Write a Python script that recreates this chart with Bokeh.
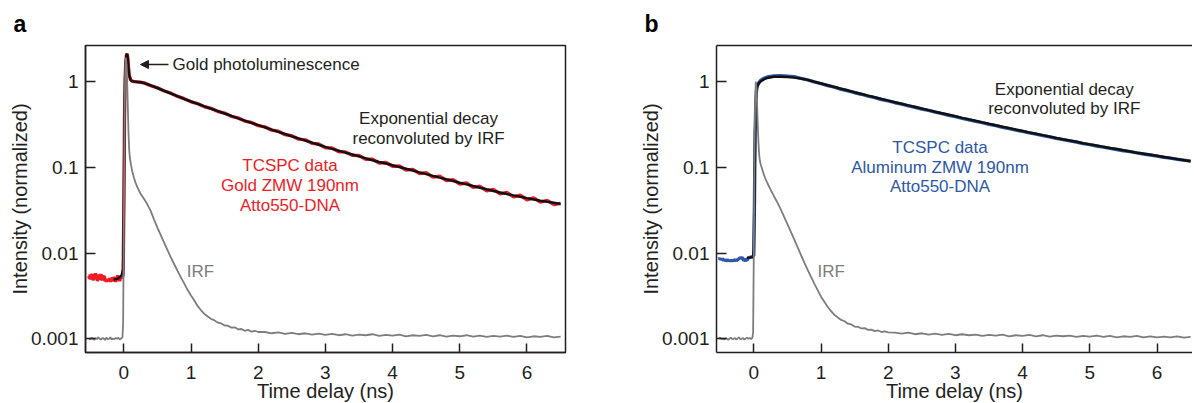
import numpy as np
from bokeh.plotting import figure
from bokeh.models import Label, Arrow, NormalHead, FixedTicker, LinearAxis
from bokeh.layouts import row
from bokeh.embed import file_html
from bokeh.resources import INLINE

# ---------------- data ----------------
# sampling grids (ns)
base_t = np.round(np.arange(-0.52, -0.005, 0.01), 3)      # pre-pulse baseline of TCSPC data
irf_base_t = np.round(np.arange(-0.52, -0.015, 0.02), 3)  # pre-pulse baseline of IRF
decay_t = np.round(np.arange(0.3, 6.55, 0.1), 2)          # TCSPC decay grid (panel a)
decay_tb = np.round(np.arange(0.6, 6.55, 0.1), 2)         # TCSPC decay grid (panel b)
irf_mid_t = np.round(np.arange(0.35, 2.025, 0.05), 3)
irf_tail_t = np.round(np.arange(2.1, 6.55, 0.1), 2)

# ---- panel a : gold ZMW ----
gold_base = [0.0054, 0.0050, 0.0056, 0.0049, 0.0053, 0.0057, 0.0051, 0.0048, 0.0055, 0.0052,
             0.0058, 0.0050, 0.0054, 0.0047, 0.0053, 0.0056, 0.0049, 0.0052, 0.0057, 0.0050,
             0.0048, 0.0055, 0.0051, 0.0054, 0.0047, 0.0050, 0.0046, 0.0050, 0.0048, 0.0049,
             0.0047, 0.0051, 0.0046, 0.0050, 0.0048, 0.0052, 0.0049, 0.0047, 0.0053, 0.0050,
             0.0046, 0.0052, 0.0049, 0.0055, 0.0048, 0.0051, 0.0047, 0.0053, 0.0050, 0.0054,
             0.0052, 0.0056]
peak_t = [0.00, 0.01, 0.02, 0.03, 0.04, 0.05, 0.06, 0.07, 0.08, 0.10, 0.12, 0.15, 0.20, 0.25]
gold_peak = [0.03, 0.35, 1.10, 1.70, 2.05, 2.10, 1.85, 1.45, 1.20, 1.05, 1.01, 1.00, 0.99, 0.98]
gold_decay = [0.965, 0.895, 0.845, 0.775, 0.730, 0.670, 0.630, 0.580, 0.552, 0.508,
              0.486, 0.447, 0.429, 0.393, 0.377, 0.346, 0.333, 0.306, 0.296, 0.271,
              0.263, 0.240, 0.233, 0.213, 0.209, 0.190, 0.187, 0.169, 0.168, 0.152,
              0.151, 0.138, 0.137, 0.124, 0.124, 0.112, 0.1135, 0.1025, 0.1035, 0.0930,
              0.0945, 0.0845, 0.0862, 0.0768, 0.0785, 0.0700, 0.0718, 0.0638, 0.0656, 0.0582,
              0.0600, 0.0533, 0.0552, 0.0490, 0.0508, 0.0451, 0.0472, 0.0418, 0.0440, 0.0392,
              0.0411, 0.0368, 0.0380]
fit_a_pre_t = [-0.15, -0.10, -0.06, -0.03, -0.01]
fit_a_pre = [0.0049, 0.0050, 0.0052, 0.0056, 0.0065]
fit_a_decay = [0.960, 0.900, 0.840, 0.780, 0.725, 0.675, 0.625, 0.585, 0.548, 0.513,
               0.481, 0.452, 0.424, 0.398, 0.372, 0.350, 0.329, 0.310, 0.292, 0.275,
               0.259, 0.244, 0.229, 0.217, 0.205, 0.194, 0.183, 0.173, 0.164, 0.156,
               0.148, 0.141, 0.134, 0.127, 0.121, 0.115, 0.1105, 0.1055, 0.1005, 0.0960,
               0.0915, 0.0872, 0.0832, 0.0794, 0.0758, 0.0724, 0.0692, 0.0661, 0.0632, 0.0604,
               0.0578, 0.0553, 0.0530, 0.0509, 0.0489, 0.0470, 0.0453, 0.0437, 0.0422, 0.0408,
               0.0396, 0.0385, 0.0374]

irf_a_base = [0.00101, 0.00098, 0.00103, 0.00100, 0.00097, 0.00102, 0.00099, 0.00104, 0.00100, 0.00098,
              0.00102, 0.00101, 0.00097, 0.00103, 0.00099, 0.00100, 0.00104, 0.00098, 0.00101, 0.00099,
              0.00102, 0.00100, 0.00103, 0.00098, 0.00101, 0.00104]
irf_rise_t = [-0.01, 0.00, 0.01, 0.02, 0.03, 0.04, 0.05, 0.06, 0.07, 0.08, 0.09, 0.10,
              0.125, 0.15, 0.175, 0.20, 0.25, 0.30]
irf_a_rise = [0.0015, 0.02, 0.30, 1.20, 1.90, 1.60, 1.00, 0.50, 0.25, 0.16, 0.13, 0.115,
              0.090, 0.076, 0.066, 0.059, 0.049, 0.043]
irf_a_mid = [0.037, 0.031, 0.0245, 0.0198, 0.0162, 0.0132, 0.0108, 0.0089, 0.0074, 0.0062,
             0.0052, 0.0044, 0.0037, 0.0032, 0.0028, 0.0024, 0.00215, 0.00195, 0.00182, 0.00170,
             0.00164, 0.00154, 0.00151, 0.00143, 0.00142, 0.00135, 0.00136, 0.00129, 0.00130, 0.00124,
             0.00127, 0.00121, 0.00124, 0.00120]
irf_a_tail = [0.00120, 0.00116, 0.00119, 0.00114, 0.00117, 0.00113, 0.00116, 0.00112, 0.00115, 0.00111,
              0.00114, 0.00110, 0.00113, 0.00109, 0.00112, 0.00110, 0.00113, 0.00108, 0.00111, 0.00109,
              0.00112, 0.00107, 0.00110, 0.00108, 0.00111, 0.00107, 0.00110, 0.00106, 0.00109, 0.00107,
              0.00110, 0.00106, 0.00109, 0.00105, 0.00108, 0.00106, 0.00109, 0.00105, 0.00108, 0.00104,
              0.00107, 0.00105, 0.00108, 0.00104, 0.00106]

# ---- panel b : aluminum ZMW ----
alu_base = [0.0085, 0.0087, 0.0084, 0.0086, 0.0083, 0.0086, 0.0084, 0.0082, 0.0085, 0.0081,
            0.0083, 0.0080, 0.0082, 0.0084, 0.0081, 0.0083, 0.0080, 0.0082, 0.0081, 0.0083,
            0.0080, 0.0082, 0.0081, 0.0084, 0.0082, 0.0083, 0.0081, 0.0084, 0.0083, 0.0086,
            0.0085, 0.0088, 0.0087, 0.0090, 0.0086, 0.0089, 0.0084, 0.0082, 0.0085, 0.0083,
            0.0081, 0.0084, 0.0082, 0.0086, 0.0088, 0.0087, 0.0090, 0.0089, 0.0091, 0.0088,
            0.0090, 0.0092]
alu_peak_t = [0.00, 0.01, 0.02, 0.03, 0.04, 0.05, 0.07, 0.10, 0.15, 0.20, 0.30, 0.40, 0.50]
alu_peak = [0.0095, 0.04, 0.25, 0.55, 0.78, 0.88, 0.96, 1.03, 1.09, 1.13, 1.165, 1.17, 1.155]
alu_decay = [1.140, 1.090, 1.045, 0.990, 0.945, 0.897, 0.858, 0.812, 0.780, 0.740,
             0.711, 0.674, 0.649, 0.617, 0.594, 0.566, 0.545, 0.519, 0.501, 0.477,
             0.460, 0.439, 0.423, 0.404, 0.389, 0.372, 0.358, 0.343, 0.331, 0.316,
             0.306, 0.293, 0.283, 0.271, 0.262, 0.252, 0.244, 0.234, 0.226, 0.217,
             0.210, 0.203, 0.197, 0.189, 0.184, 0.177, 0.172, 0.166, 0.161, 0.156,
             0.152, 0.147, 0.143, 0.139, 0.135, 0.131, 0.128, 0.124, 0.121, 0.118]
fit_b_rise_t = [-0.10, -0.05, -0.02, -0.01, 0.00, 0.01, 0.02, 0.03, 0.04, 0.05, 0.07, 0.10,
                0.15, 0.20, 0.30, 0.40, 0.50]
fit_b_rise = [0.0088, 0.0089, 0.0090, 0.0093, 0.011, 0.05, 0.27, 0.56, 0.78, 0.87, 0.94, 1.00,
              1.06, 1.10, 1.135, 1.14, 1.13]
fit_b_decay = [1.110, 1.085, 1.045, 0.995, 0.950, 0.905, 0.862, 0.822, 0.785, 0.750,
               0.716, 0.684, 0.654, 0.626, 0.599, 0.574, 0.550, 0.527, 0.505, 0.484,
               0.464, 0.445, 0.427, 0.410, 0.393, 0.377, 0.362, 0.348, 0.334, 0.321,
               0.309, 0.297, 0.286, 0.275, 0.265, 0.255, 0.246, 0.237, 0.228, 0.220,
               0.212, 0.205, 0.198, 0.191, 0.185, 0.179, 0.173, 0.168, 0.163, 0.158,
               0.153, 0.148, 0.144, 0.140, 0.136, 0.132, 0.128, 0.1245, 0.121, 0.1175]

irf_b_base = [0.00100, 0.00103, 0.00099, 0.00101, 0.00098, 0.00102, 0.00100, 0.00097, 0.00101, 0.00103,
              0.00099, 0.00100, 0.00102, 0.00098, 0.00101, 0.00104, 0.00099, 0.00100, 0.00102, 0.00098,
              0.00101, 0.00103, 0.00100, 0.00102, 0.00099, 0.00103]
irf_b_rise = [0.0012, 0.010, 0.15, 0.60, 1.00, 0.85, 0.50, 0.30, 0.19, 0.14, 0.12, 0.11,
              0.095, 0.082, 0.073, 0.066, 0.055, 0.046]
irf_b_mid = [0.039, 0.0325, 0.0265, 0.0218, 0.0178, 0.0145, 0.0118, 0.0096, 0.0078, 0.0064,
             0.0053, 0.0044, 0.0037, 0.0031, 0.0027, 0.00235, 0.0021, 0.0019, 0.00177, 0.00166,
             0.00160, 0.00150, 0.00147, 0.00139, 0.00138, 0.00132, 0.00133, 0.00127, 0.00128, 0.00123,
             0.00125, 0.00120, 0.00122, 0.00119]
irf_b_tail = [0.00118, 0.00115, 0.00118, 0.00113, 0.00116, 0.00112, 0.00115, 0.00111, 0.00114, 0.00110,
              0.00113, 0.00110, 0.00112, 0.00108, 0.00111, 0.00109, 0.00112, 0.00107, 0.00110, 0.00108,
              0.00111, 0.00107, 0.00110, 0.00106, 0.00109, 0.00107, 0.00109, 0.00105, 0.00108, 0.00106,
              0.00109, 0.00105, 0.00108, 0.00104, 0.00107, 0.00105, 0.00108, 0.00104, 0.00107, 0.00104,
              0.00106, 0.00104, 0.00107, 0.00103, 0.00105]

x_ticks = [0, 1, 2, 3, 4, 5, 6]
y_ticks = [0.001, 0.01, 0.1, 1]
y_tick_labels = {0.001: "0.001", 0.01: "0.01", 0.1: "0.1", 1: "1"}

# ---------------- styling ----------------
FONT = "Liberation Sans"
INK = "#231f20"
RED = "#ee1d25"
BLUE = "#2e58a6"
GRAY = "#7d7d7d"
YR = (0.000692, 2.63)


def make_fig(x_range, frame_w, mb_left, mb_right, boxed, letter):
    p = figure(frame_width=frame_w, frame_height=307, x_range=x_range, y_range=YR,
               y_axis_type="log", output_backend="svg", toolbar_location=None,
               min_border_left=mb_left, min_border_right=mb_right,
               min_border_top=44, min_border_bottom=48)
    p.xgrid.visible = False
    p.ygrid.visible = False
    p.background_fill_color = "white"
    p.border_fill_color = "white"
    xa = p.below[0]
    ya = p.left[0]
    for ax in (xa, ya):
        ax.axis_line_color = INK
        ax.axis_line_width = 1.5
        ax.major_tick_line_color = INK
        ax.major_tick_line_width = 1.5
        ax.major_tick_out = 0
        ax.minor_tick_line_color = None
        ax.major_label_text_font = FONT
        ax.major_label_text_font_size = "19px"
        ax.major_label_text_color = INK
        ax.axis_label_text_font = FONT
        ax.axis_label_text_font_size = "20px"
        ax.axis_label_text_font_style = "normal"
        ax.axis_label_text_color = INK
    xa.ticker = FixedTicker(ticks=x_ticks)
    xa.major_tick_in = 9
    xa.major_label_standoff = 13
    xa.axis_label = "Time delay (ns)"
    xa.axis_label_standoff = -2
    ya.ticker = FixedTicker(ticks=y_ticks)
    ya.major_label_overrides = y_tick_labels
    ya.major_tick_in = 10
    ya.major_label_standoff = 7
    ya.axis_label = "Intensity (normalized)"
    ya.axis_label_standoff = -3
    if boxed:
        p.outline_line_color = INK
        p.outline_line_width = 1.5
        p.outline_line_alpha = 1.0
    else:
        p.outline_line_color = None
        top = LinearAxis(ticker=FixedTicker(ticks=[]), axis_line_color=INK, axis_line_width=1.5,
                         major_tick_line_color=None, minor_tick_line_color=None,
                         major_tick_in=0, major_tick_out=0, major_label_standoff=0,
                         major_label_text_font_size="0px")
        p.add_layout(top, "above")
    p.title.text = letter
    p.title.align = "left"
    p.title.offset = -72
    p.title.standoff = 17
    p.title.text_font = FONT
    p.title.text_font_size = "23px"
    p.title.text_font_style = "bold"
    p.title.text_color = "#000000"
    return p


def txt(p, x, y, s, color, size="17px", align="center"):
    p.add_layout(Label(x=x, y=y, text=s, text_font=FONT, text_font_size=size,
                       text_color=color, text_align=align, text_baseline="middle"))


# ---------------- panel a ----------------
pa = make_fig((-0.57, 6.573), 480, 85, 71, True, "a")
gold_t = list(base_t) + peak_t + list(decay_t)
gold_v = gold_base + gold_peak + gold_decay
pa.line(gold_t, gold_v, line_color=RED, line_width=3.4)
fit_a_t = fit_a_pre_t + peak_t + list(decay_t)
fit_a_v = fit_a_pre + gold_peak + fit_a_decay
pa.line(fit_a_t, fit_a_v, line_color="#111111", line_width=2.5)
irf_a_t = list(irf_base_t) + irf_rise_t + list(irf_mid_t) + list(irf_tail_t)
irf_a_v = irf_a_base + irf_a_rise + irf_a_mid + irf_a_tail
pa.line(irf_a_t, irf_a_v, line_color=GRAY, line_width=1.8)

pa.add_layout(Arrow(end=NormalHead(size=8, fill_color=INK, line_color=INK, line_width=1),
                    x_start=0.665, y_start=1.578, x_end=0.2485, y_end=1.578,
                    line_color=INK, line_width=1.5))
txt(pa, 0.7247, 1.578, "Gold photoluminescence", INK, align="left")
txt(pa, 4.535, 0.3703, "Exponential decay", INK)
txt(pa, 4.535, 0.2165, "reconvoluted by IRF", INK)
txt(pa, 2.473, 0.1049, "TCSPC data", RED)
txt(pa, 2.473, 0.0613, "Gold ZMW 190nm", RED)
txt(pa, 2.473, 0.0358, "Atto550-DNA", RED)
txt(pa, 1.141, 0.00614, "IRF", GRAY)

# ---------------- panel b ----------------
pb = make_fig((-0.555, 6.528), 476, 80, 0, False, "b")
alu_t = list(base_t) + alu_peak_t + list(decay_tb)
alu_v = alu_base + alu_peak + alu_decay
pb.line(alu_t, alu_v, line_color=BLUE, line_width=3.4)
fit_b_t = fit_b_rise_t + list(decay_tb)
fit_b_v = fit_b_rise + fit_b_decay
pb.line(fit_b_t, fit_b_v, line_color="#111111", line_width=2.5)
irf_b_t = list(irf_base_t) + irf_rise_t + list(irf_mid_t) + list(irf_tail_t)
irf_b_v = irf_b_base + irf_b_rise + irf_b_mid + irf_b_tail
pb.line(irf_b_t, irf_b_v, line_color=GRAY, line_width=1.8)

txt(pb, 4.62, 0.8068, "Exponential decay", INK)
txt(pb, 4.62, 0.4843, "reconvoluted by IRF", INK)
txt(pb, 2.771, 0.1678, "TCSPC data", BLUE)
txt(pb, 2.771, 0.0994, "Aluminum ZMW 190nm", BLUE)
txt(pb, 2.771, 0.0597, "Atto550-DNA", BLUE)
txt(pb, 1.152, 0.00614, "IRF", GRAY)

layout = row(pa, pb)
open("out.html", "w").write(file_html(layout, INLINE))
